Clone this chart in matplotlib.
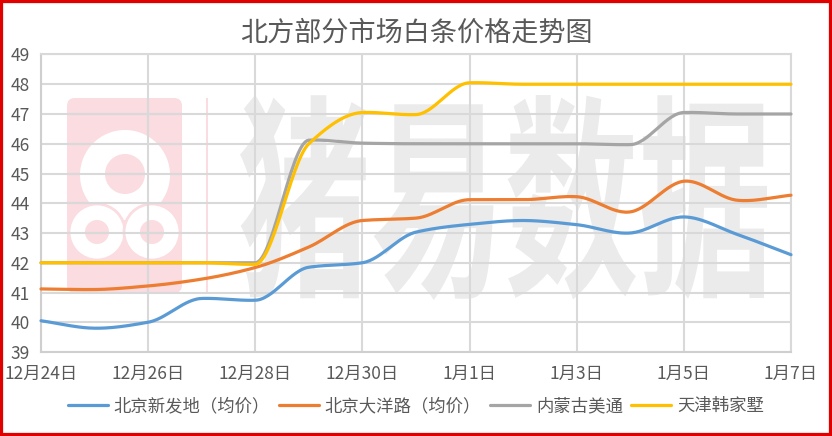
import numpy as np
import matplotlib
matplotlib.use('Agg')
import matplotlib.pyplot as plt
from matplotlib.patches import Circle, FancyBboxPatch, PathPatch, Rectangle
from matplotlib.textpath import TextPath
from matplotlib.font_manager import FontProperties
from matplotlib.transforms import Affine2D

plt.rcParams['font.family'] = ['Noto Sans CJK SC', 'DejaVu Sans']

# data, one value per day
dates = ['12月24日', '12月25日', '12月26日', '12月27日', '12月28日', '12月29日', '12月30日',
         '12月31日', '1月1日', '1月2日', '1月3日', '1月4日', '1月5日', '1月6日', '1月7日']
xinfadi = [40.05, 39.8, 40.0, 40.8, 40.74, 41.85, 42.0, 43.03, 43.29, 43.42, 43.28, 43.0, 43.54, 42.95, 42.27]
dayanglu = [41.12, 41.1, 41.22, 41.45, 41.84, 42.53, 43.42, 43.5, 44.12, 44.12, 44.22, 43.71, 44.74, 44.1, 44.27]
meitong = [42.0, 42.0, 42.0, 42.0, 42.0, 46.12, 46.02, 46.0, 46.0, 46.0, 46.0, 45.97, 47.05, 47.0, 47.0]
hanjiashu = [42.0, 42.0, 42.0, 42.0, 41.95, 46.0, 47.05, 46.98, 48.05, 48.0, 48.0, 48.0, 48.0, 48.0, 48.0]

names = ['北京新发地（均价）', '北京大洋路（均价）', '内蒙古美通', '天津韩家墅']
colors = ['#5B9BD5', '#ED7D31', '#A5A5A5', '#FFC000']
series = [xinfadi, dayanglu, meitong, hanjiashu]
title = '北方部分市场白条价格走势图'


def smooth(y, n=30):
    # cubic curve through the points, roughly like excel's smoothed line:
    # harmonic-mean slopes on monotone stretches, small slopes at turning points
    y = np.asarray(y, float)
    d = np.diff(y)
    m = np.zeros(len(y))
    for k in range(1, len(y) - 1):
        if d[k - 1] * d[k] > 0:
            m[k] = 2 * d[k - 1] * d[k] / (d[k - 1] + d[k])
        else:
            lo = min(abs(d[k - 1]), abs(d[k]))
            m[k] = np.clip((y[k + 1] - y[k - 1]) / 2, -lo, lo)
    m[0] = d[0]
    m[-1] = d[-1]
    xs, ys = [], []
    t = np.linspace(0, 1, n, endpoint=False)
    for k in range(len(y) - 1):
        h00 = 2 * t**3 - 3 * t**2 + 1
        h10 = t**3 - 2 * t**2 + t
        h01 = -2 * t**3 + 3 * t**2
        h11 = t**3 - t**2
        xs.append(k + t)
        ys.append(h00 * y[k] + h10 * m[k] + h01 * y[k + 1] + h11 * m[k + 1])
    xs.append([len(y) - 1])
    ys.append([y[-1]])
    return np.concatenate(xs), np.concatenate(ys)


fig = plt.figure(figsize=(8.32, 4.36), dpi=100)

# background layer with the watermark, in pixel coordinates
bg = fig.add_axes([0, 0, 1, 1], zorder=0)
bg.set_xlim(0, 832)
bg.set_ylim(436, 0)
bg.axis('off')

pink = '#fadce1'
bg.add_patch(FancyBboxPatch((70, 101), 109, 189, boxstyle='round,pad=3,rounding_size=8',
                            fc=pink, ec='none'))
bg.add_patch(Rectangle((206, 98), 2, 195, fc=pink, ec='none'))
bg.add_patch(Circle((125, 175), 45, fc='white', ec='none'))
bg.add_patch(Circle((125, 174), 20, fc=pink, ec='none'))
for cx in (97, 152):
    bg.add_patch(Circle((cx, 232), 28, fc='white', ec=pink, lw=2))
    bg.add_patch(Circle((cx, 232), 12, fc=pink, ec='none'))

tp = TextPath((0, 0), '猪易数据', size=1,
              prop=FontProperties(family='Noto Sans CJK SC', weight='bold'))
ext = tp.get_extents()
sx = (767 - 240) / ext.width
sy = (300 - 95) / ext.height
tr = Affine2D().translate(-ext.x0, -ext.y0).scale(sx, -sy).translate(240, 300)
bg.add_patch(PathPatch(tr.transform_path(tp), fc='#ebebeb', ec='none'))

# main chart
ax = fig.add_axes([41 / 832, 1 - 352 / 436, 750 / 832, (352 - 54.5) / 436], zorder=1)
ax.patch.set_visible(False)

for vals, name, c in zip(series, names, colors):
    px, py = smooth(vals)
    ax.plot(px, py, color=c, lw=2.3, label=name, clip_on=False, solid_capstyle='round', zorder=3)

ax.set_xlim(0, len(dates) - 1)
ax.set_ylim(39, 49)
ax.set_xticks(range(0, len(dates), 2))
ax.set_xticklabels(dates[::2])
ax.set_yticks(range(39, 50))
ax.tick_params(length=0, labelsize=12.5, labelcolor='#595959')
ax.tick_params(axis='x', pad=9)
ax.tick_params(axis='y', pad=8)
ax.grid(True, color='#d9d9d9', lw=1.5)
for s in ax.spines.values():
    s.set_color('#d9d9d9')
    s.set_linewidth(1.5)
ax.spines['left'].set_color('#cfcfcf')
ax.spines['bottom'].set_color('#cfcfcf')

fig.text(0.5, 1 - 33 / 436, title, ha='center', va='center', fontsize=19.5, color='#595959')

fig.legend(loc='center', bbox_to_anchor=(0.5, 1 - 406 / 436), ncol=4, frameon=False,
           fontsize=12.5, labelcolor='#595959', handlelength=2.3, handletextpad=0.35,
           columnspacing=0.5)

fig.add_artist(Rectangle((0, 0), 1, 1, transform=fig.transFigure, fill=False,
                         ec='#e00000', lw=4.5, zorder=10))

fig.savefig('out.png', dpi=100)
